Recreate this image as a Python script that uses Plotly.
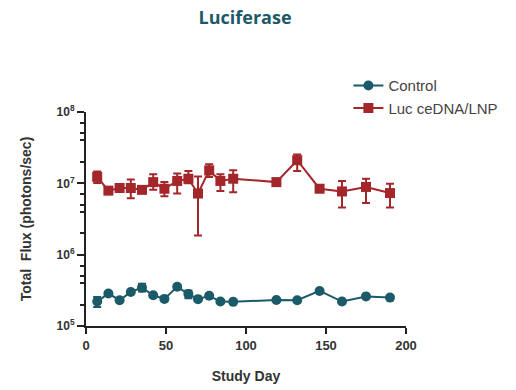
import plotly.graph_objects as go

# Study days sampled
days = [7, 14, 21, 28, 35, 42, 49, 57, 64, 70, 77, 84, 92, 119, 132, 146, 160, 175, 190]

# Control group total flux (photons/sec)
control = [2.2e5, 2.85e5, 2.3e5, 3.0e5, 3.45e5, 2.7e5, 2.4e5, 3.55e5, 2.8e5, 2.38e5,
           2.65e5, 2.2e5, 2.18e5, 2.32e5, 2.3e5, 3.1e5, 2.2e5, 2.6e5, 2.5e5]
control_err_up = [0.35e5, 0, 0, 0, 0.45e5, 0, 0, 0, 0.35e5, 0, 0, 0, 0, 0, 0, 0, 0, 0, 0]
control_err_dn = [0.35e5, 0, 0, 0, 0.4e5, 0, 0, 0, 0.35e5, 0, 0, 0, 0, 0, 0, 0, 0, 0, 0]

# Luc ceDNA/LNP group total flux (photons/sec)
luc = [1.23e7, 7.9e6, 8.6e6, 8.6e6, 8.1e6, 1.04e7, 8.4e6, 1.08e7, 1.16e7, 7.2e6,
       1.52e7, 1.08e7, 1.16e7, 1.04e7, 2.11e7, 8.4e6, 7.7e6, 8.9e6, 7.3e6]
luc_err_up = [2.4e6, 0, 0, 2.7e6, 0, 3.0e6, 2.0e6, 2.9e6, 3.3e6, 5.3e6,
              3.3e6, 2.6e6, 3.6e6, 0, 4.3e6, 0.8e6, 3.1e6, 2.7e6, 2.6e6]
luc_err_dn = [2.2e6, 0, 0, 2.4e6, 0, 2.3e6, 1.8e6, 3.6e6, 1.6e6, 5.35e6,
              2.9e6, 3.0e6, 4.1e6, 0, 6.2e6, 0.8e6, 3.1e6, 3.6e6, 2.7e6]

# Axis ticks
x_ticks = [0, 50, 100, 150, 200]
y_ticks = [1e5, 1e6, 1e7, 1e8]
y_tick_text = ["10<sup>5</sup>", "10<sup>6</sup>", "10<sup>7</sup>", "10<sup>8</sup>"]
y_minor = [m * d for d in (1e5, 1e6, 1e7) for m in (2, 4, 5, 7)]

TEAL = "#1b5a69"
RED = "#a3262a"
FONT = "Liberation Sans, Arial, sans-serif"

fig = go.Figure()

fig.add_trace(go.Scatter(
    x=days, y=control, name="Control", mode="lines+markers",
    line=dict(color=TEAL, width=2),
    marker=dict(symbol="circle", size=10, color=TEAL),
    error_y=dict(type="data", symmetric=False, array=control_err_up,
                 arrayminus=control_err_dn, color=TEAL, thickness=2, width=4),
))

fig.add_trace(go.Scatter(
    x=days, y=luc, name="Luc ceDNA/LNP", mode="lines+markers",
    line=dict(color=RED, width=2),
    marker=dict(symbol="square", size=10, color=RED),
    error_y=dict(type="data", symmetric=False, array=luc_err_up,
                 arrayminus=luc_err_dn, color=RED, thickness=2, width=4),
))

fig.update_layout(
    width=516, height=390,
    margin=dict(l=86, r=110, t=112, b=64, autoexpand=False),
    paper_bgcolor="white", plot_bgcolor="white",
    title=dict(text="<b>Luciferase</b>", x=0.475, xanchor="center", y=0.955, yanchor="middle",
               font=dict(family="Open Sans, sans-serif", size=18, color="#1d5868")),
    legend=dict(x=0.82, y=1.2, xanchor="left", yanchor="top",
                font=dict(family=FONT, size=15, color="#444444"),
                bgcolor="rgba(0,0,0,0)", tracegroupgap=2),
    showlegend=True,
)

fig.update_xaxes(
    range=[0, 200], tickvals=x_ticks, ticks="outside", ticklen=6, tickwidth=2,
    tickcolor="#222", showline=True, linecolor="#222", linewidth=2,
    showgrid=False, zeroline=False,
    tickfont=dict(family=FONT, size=13, color="#333", weight="bold"),
    title=dict(text="Study Day", standoff=20,
               font=dict(family=FONT, size=14, color="#333", weight="bold")),
)

fig.update_yaxes(
    type="log", range=[5, 8], tickmode="array", tickvals=y_ticks, ticktext=y_tick_text,
    ticks="outside", ticklen=7, tickwidth=2, tickcolor="#222",
    showline=True, linecolor="#222", linewidth=2, showgrid=False, zeroline=False,
    tickfont=dict(family=FONT, size=12, color="#333", weight="bold"),
    minor=dict(tickmode="array", tickvals=y_minor, ticks="outside", ticklen=4,
               tickwidth=2, tickcolor="#222", showgrid=False),
    title=dict(text="Total  Flux (photons/sec)", standoff=22,
               font=dict(family=FONT, size=14, color="#333", weight="bold")),
)

fig.write_html("out.html")
